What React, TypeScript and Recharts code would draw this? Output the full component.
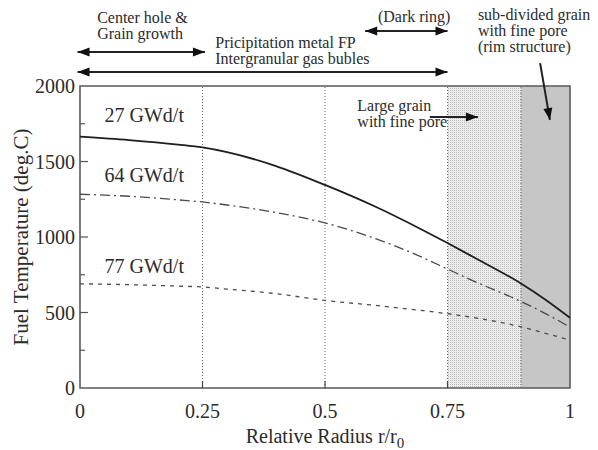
import React from "react";
import {
  LineChart,
  Line,
  XAxis,
  YAxis,
  ReferenceArea,
  ReferenceLine,
  ReferenceDot,
  Label,
} from "recharts";

// relative radius r/r0 and fuel temperature (deg.C) for each burnup
const radius = [0, 0.1, 0.2, 0.25, 0.3, 0.4, 0.5, 0.6, 0.7, 0.75, 0.8, 0.9, 0.95, 1];
const temp27 = [1665, 1642, 1612, 1593, 1562, 1470, 1345, 1205, 1045, 960, 872, 692, 585, 465];
const temp64 = [1283, 1270, 1246, 1232, 1212, 1162, 1093, 993, 863, 788, 713, 573, 493, 403];
const temp77 = [690, 684, 675, 669, 655, 625, 580, 548, 512, 492, 468, 405, 362, 318];

const xTicks = [0, 0.25, 0.5, 0.75, 1];
const yTicks = [0, 250, 500, 750, 1000, 1250, 1500, 1750, 2000];
const dividers = [0.25, 0.5, 0.75, 0.9];

const data = radius.map((r, i) => ({
  r,
  t27: temp27[i],
  t64: temp64[i],
  t77: temp77[i],
}));

const FONT = "'Liberation Serif', 'Times New Roman', serif";
const INK = "#2b2b2b";

// burnup labels sitting over each curve
const curveLabels = [
  { text: "27 GWd/t", r: 0.05, t: 1760 },
  { text: "64 GWd/t", r: 0.05, t: 1364 },
  { text: "77 GWd/t", r: 0.05, t: 762 },
];

// region notes above and inside the plot
const notes = [
  { lines: ["Center hole &", "Grain growth"], r: 0.035, t: 2417 },
  { lines: ["Pricipitation metal FP", "Intergranular gas bubles"], r: 0.276, t: 2252 },
  { lines: ["(Dark ring)"], r: 0.608, t: 2424 },
  { lines: ["sub-divided grain", "with fine pore", "(rim structure)"], r: 0.812, t: 2437 },
  { lines: ["Large grain", "with fine pore"], r: 0.566, t: 1834 },
];

const arrows = [
  { from: { x: -0.005, y: 2225 }, to: { x: 0.255, y: 2225 }, both: true },
  { from: { x: -0.005, y: 2093 }, to: { x: 0.75, y: 2093 }, both: true },
  { from: { x: 0.582, y: 2364 }, to: { x: 0.75, y: 2364 }, both: true },
  { from: { x: 0.714, y: 1795 }, to: { x: 0.812, y: 1795 }, both: false },
  { from: { x: 0.939, y: 2152 }, to: { x: 0.959, y: 1775 }, both: false },
];

const head = (x: number, y: number, ang: number) => {
  const len = 12;
  const half = 4.5;
  const bx = x - len * Math.cos(ang);
  const by = y - len * Math.sin(ang);
  const px = -Math.sin(ang) * half;
  const py = Math.cos(ang) * half;
  return `${x},${y} ${bx + px},${by + py} ${bx - px},${by - py}`;
};

const arrowShape = (both: boolean) => (p: any) => {
  const { x1, y1, x2, y2 } = p;
  const ang = Math.atan2(y2 - y1, x2 - x1);
  return (
    <g>
      <line x1={x1} y1={y1} x2={x2} y2={y2} stroke="#222" strokeWidth={2} />
      <polygon points={head(x2, y2, ang)} fill="#111" />
      {both && <polygon points={head(x1, y1, ang + Math.PI)} fill="#111" />}
    </g>
  );
};

// one <text> per line so stacked lines stay separate
const noteShape = (lines: string[], size: number) => (p: any) => (
  <g>
    {lines.map((s, i) => (
      <text key={i} x={p.cx} y={p.cy + i * 16} fontFamily={FONT} fontSize={size} fill={INK}>
        {s}
      </text>
    ))}
  </g>
);

const TempTick = ({ x, y, payload }: any) => {
  const v = payload.value;
  const major = v % 500 === 0;
  return (
    <g>
      {v > 0 && v < 2000 && (
        <line x1={x} x2={x + (major ? 8 : 5)} y1={y} y2={y} stroke="#555" strokeWidth={1.2} />
      )}
      {major && (
        <text x={x - 5} y={y + 7} textAnchor="end" fontFamily={FONT} fontSize={20} fill={INK}>
          {v}
        </text>
      )}
    </g>
  );
};

const RadiusTick = ({ x, y, payload }: any) => {
  const v = payload.value;
  return (
    <g>
      {v > 0 && v < 1 && <line x1={x} x2={x} y1={y} y2={y - 7} stroke="#444" strokeWidth={1.2} />}
      <text x={x} y={y + 30} textAnchor="middle" fontFamily={FONT} fontSize={20} fill={INK}>
        {v}
      </text>
    </g>
  );
};

export default function App() {
  return (
    <div style={{ width: 598, height: 450, background: "#fff" }}>
      <style>{"body{margin:0}"}</style>
      <LineChart
        width={598}
        height={450}
        data={data}
        margin={{ top: 86, right: 28, bottom: 0, left: 0 }}
      >
        <defs>
          <pattern id="finePore" width="2" height="2" patternUnits="userSpaceOnUse">
            <rect width="2" height="2" fill="#ececec" />
            <rect width="1" height="1" fill="#bdbdbd" />
          </pattern>
        </defs>

        <XAxis
          dataKey="r"
          type="number"
          domain={[0, 1]}
          ticks={xTicks}
          interval={0}
          height={62}
          tickSize={0}
          tickMargin={0}
          tickLine={false}
          axisLine={false}
          tick={<RadiusTick />}
        >
          <Label
            content={({ viewBox }: any) => (
              <text
                x={viewBox.x + viewBox.width / 2}
                y={viewBox.y + 55}
                textAnchor="middle"
                fontFamily={FONT}
                fontSize={20}
                fill={INK}
              >
                Relative Radius r/r
                <tspan dy={5} fontSize={15}>0</tspan>
              </text>
            )}
          />
        </XAxis>
        <YAxis
          type="number"
          domain={[0, 2000]}
          ticks={yTicks}
          interval={0}
          width={80}
          tickSize={0}
          tickMargin={0}
          tickLine={false}
          axisLine={false}
          tick={<TempTick />}
        >
          <Label
            content={({ viewBox }: any) => {
              const cx = 21;
              const cy = viewBox.y + viewBox.height / 2;
              return (
                <text
                  x={cx}
                  y={cy}
                  transform={`rotate(-90 ${cx} ${cy})`}
                  textAnchor="middle"
                  dominantBaseline="central"
                  fontFamily={FONT}
                  fontSize={21}
                  fill={INK}
                >
                  Fuel Temperature (deg.C)
                </text>
              );
            }}
          />
        </YAxis>

        {/* large grain zone and rim zone */}
        <ReferenceArea x1={0.75} x2={0.9} y1={0} y2={2000} fill="url(#finePore)" fillOpacity={1} stroke="none" />
        <ReferenceArea x1={0.9} x2={1} y1={0} y2={2000} fill="#c6c6c6" fillOpacity={1} stroke="none" />

        {dividers.map((d) => (
          <ReferenceLine key={d} x={d} stroke="#666" strokeDasharray="1 2" strokeWidth={1} />
        ))}

        {/* plot frame */}
        <ReferenceArea x1={0} x2={1} y1={0} y2={2000} fill="none" stroke="#5a5a5a" strokeWidth={1.6} />

        <Line
          dataKey="t27"
          type="monotone"
          stroke="#1e1e1e"
          strokeWidth={1.8}
          dot={false}
          isAnimationActive={false}
        />
        <Line
          dataKey="t64"
          type="monotone"
          stroke="#4a4a4a"
          strokeWidth={1.3}
          strokeDasharray="10 4 2 4"
          dot={false}
          isAnimationActive={false}
        />
        <Line
          dataKey="t77"
          type="monotone"
          stroke="#4a4a4a"
          strokeWidth={1.3}
          strokeDasharray="4 5"
          dot={false}
          isAnimationActive={false}
        />

        {curveLabels.map((c) => (
          <ReferenceDot
            key={c.text}
            x={c.r}
            y={c.t}
            r={0}
            ifOverflow="visible"
            shape={noteShape([c.text], 20)}
          />
        ))}

        {notes.map((n) => (
          <ReferenceDot
            key={n.lines[0]}
            x={n.r}
            y={n.t}
            r={0}
            ifOverflow="visible"
            shape={noteShape(n.lines, 16)}
          />
        ))}

        {arrows.map((a, i) => (
          <ReferenceLine
            key={i}
            segment={[a.from, a.to]}
            ifOverflow="visible"
            shape={arrowShape(a.both)}
          />
        ))}
      </LineChart>
    </div>
  );
}
